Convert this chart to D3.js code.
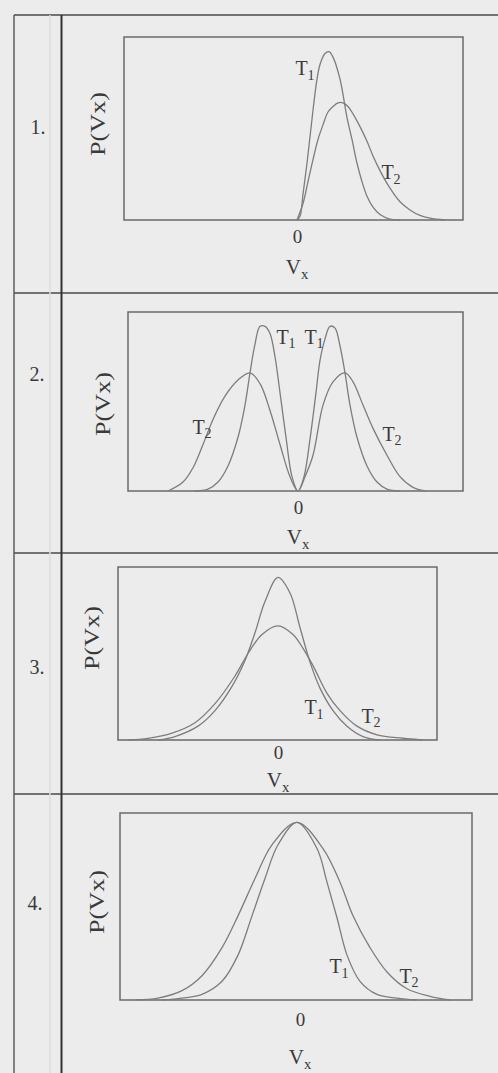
<!DOCTYPE html>
<html>
<head>
<meta charset="utf-8">
<script src="https://cdn.jsdelivr.net/npm/d3@7"></script>
<style>
  body { margin: 0; background: #ececec; }
  svg { display: block; }
  svg text { font-family: "Liberation Serif", "DejaVu Serif", serif; fill: #3a3a3a; }
</style>
</head>
<body>
<script>
// row numbers and labels
var rowNames = ["1.", "2.", "3.", "4."];
var xTicks = [0];

// curves: [Vx, P(Vx)], P normalised to box height
var p1T1 = [[0,0],[0.3,0.02],[0.6,0.14],[1.0,0.31],[1.6,0.6],[2.0,0.77],[2.3,0.85],[2.8,0.91],[3.2,0.92],
  [3.6,0.89],[4.3,0.77],[5.0,0.56],[5.5,0.44],[6.0,0.31],[6.5,0.21],[7.0,0.13],[7.6,0.07],[8.3,0.03],[9.3,0.005],[10.3,0]];
var p1T2 = [[0,0],[0.6,0.09],[1.1,0.21],[1.6,0.33],[2.1,0.44],[2.6,0.52],[3.1,0.59],[3.6,0.62],[4.1,0.64],[4.6,0.64],
  [5.1,0.62],[5.6,0.58],[6.3,0.51],[7.0,0.43],[7.6,0.35],[8.3,0.27],[9.0,0.2],[9.6,0.15],[10.3,0.1],[11.3,0.055],
  [12.3,0.025],[13.3,0.01],[14.8,0]];

var p2T1 = [[-10.3,0],[-9.0,0.01],[-8.0,0.05],[-7.0,0.14],[-6.0,0.3],[-5.3,0.48],[-4.8,0.66],[-4.3,0.82],[-3.8,0.92],
  [-3.3,0.92],[-2.8,0.88],[-2.3,0.75],[-1.8,0.55],[-1.2,0.3],[-0.6,0.08],[0,0],[0.6,0.08],[1.2,0.29],[1.8,0.55],
  [2.2,0.73],[2.7,0.85],[3.2,0.92],[3.7,0.91],[4.2,0.81],[4.7,0.66],[5.2,0.48],[5.9,0.3],[6.9,0.14],[7.9,0.05],[8.9,0.01],[10.2,0]];
var p2T2 = [[-13.0,0],[-11.5,0.05],[-10.5,0.13],[-9.5,0.26],[-8.5,0.4],[-7.3,0.53],[-6.0,0.62],[-4.8,0.66],[-3.8,0.6],[-2.8,0.45],
  [-1.8,0.26],[-0.8,0.08],[0,0],[0.7,0.08],[1.5,0.2],[2.5,0.48],[3.5,0.61],[4.7,0.66],[5.5,0.61],[6.5,0.48],[7.5,0.35],
  [8.9,0.2],[10.2,0.08],[11.5,0.02],[12.7,0]];

var p3T1 = [[-12.0,0],[-10.3,0.02],[-8.0,0.08],[-6.3,0.17],[-4.6,0.31],[-3.3,0.46],[-2.3,0.62],[-1.3,0.8],[0,0.94],
  [1.2,0.85],[2.2,0.65],[3.2,0.45],[4.2,0.3],[5.5,0.17],[6.9,0.08],[8.5,0.02],[10.2,0]];
var p3T2 = [[-15.0,0],[-13.0,0.01],[-10.6,0.04],[-8.3,0.1],[-6.3,0.21],[-4.3,0.37],[-3.0,0.5],[-1.6,0.61],[0,0.66],
  [1.5,0.61],[2.5,0.53],[3.5,0.43],[4.9,0.27],[6.2,0.17],[7.9,0.08],[9.9,0.03],[12.5,0.01],[14.5,0]];

var p4T1 = [[-13.8,0],[-11.8,0.01],[-9.8,0.03],[-7.8,0.1],[-6.2,0.24],[-4.8,0.45],[-3.5,0.65],[-2.2,0.83],[-0.3,0.95],
  [1.7,0.81],[2.7,0.63],[3.7,0.44],[4.7,0.24],[6.0,0.1],[7.7,0.03],[9.7,0.01],[11.7,0]];
var p4T2 = [[-16.5,0],[-14.2,0.01],[-11.8,0.05],[-9.8,0.13],[-7.8,0.28],[-6.2,0.45],[-4.5,0.65],[-2.8,0.83],[-0.3,0.95],
  [2.3,0.81],[4.0,0.63],[5.3,0.45],[7.0,0.28],[8.7,0.15],[10.7,0.06],[13.0,0.02],[15.0,0]];

// curve labels: [name, subscript, Vx, P]
var p1Labels = [["T", "1", 0.8, 0.83], ["T", "2", 9.4, 0.26]];
var p2Labels = [["T", "1", -1.2, 0.86], ["T", "1", 1.6, 0.86], ["T", "2", -9.6, 0.36], ["T", "2", 9.4, 0.32]];
var p3Labels = [["T", "1", 3.6, 0.19], ["T", "2", 9.3, 0.14]];
var p4Labels = [["T", "1", 3.9, 0.18], ["T", "2", 10.9, 0.13]];

// layout of each row (pixels)
var panels = [
  { curves: [p1T1, p1T2], labels: p1Labels, xDom: [-17.3, 16.6], box: [124, 37, 463, 220], num: [38, 127], ylab: [98, 124], zeroY: 237, vxY: 268 },
  { curves: [p2T1, p2T2], labels: p2Labels, xDom: [-17.0, 16.5], box: [128, 312, 463, 491], num: [37, 374], ylab: [103, 404], zeroY: 508, vxY: 538 },
  { curves: [p3T1, p3T2], labels: p3Labels, xDom: [-16.0, 15.9], box: [118, 567, 437, 740], num: [37, 667], ylab: [92, 638], zeroY: 753, vxY: 781 },
  { curves: [p4T1, p4T2], labels: p4Labels, xDom: [-18.0, 17.2], box: [120, 813, 472, 1000], num: [35, 903], ylab: [97, 902], zeroY: 1020, vxY: 1058 }
];
var rowLines = [15, 293, 553, 794];

var W = 498, H = 1073;
var svg = d3.select("body").append("svg").attr("width", W).attr("height", H)
  .attr("font-family", "Liberation Serif, serif");

// table frame
svg.selectAll(".hline").data(rowLines).enter().append("line")
  .attr("x1", 14).attr("x2", W).attr("y1", function(d) { return d; }).attr("y2", function(d) { return d; })
  .attr("stroke", "#4a4a4a").attr("stroke-width", 1.6);
svg.append("line").attr("x1", 14).attr("x2", 14).attr("y1", 15).attr("y2", H)
  .attr("stroke", "#555").attr("stroke-width", 1.4);
svg.append("line").attr("x1", 50).attr("x2", 50).attr("y1", 15).attr("y2", H)
  .attr("stroke", "#dcdcdc").attr("stroke-width", 1.5);
svg.append("line").attr("x1", 61.5).attr("x2", 61.5).attr("y1", 15).attr("y2", H)
  .attr("stroke", "#333").attr("stroke-width", 2);

function subText(sel, main, sub, size) {
  sel.append("tspan").text(main);
  sel.append("tspan").text(sub).attr("font-size", size * 0.7).attr("dy", size * 0.22);
}

panels.forEach(function(p, i) {
  var b = p.box;
  var x = d3.scaleLinear().domain(p.xDom).range([b[0], b[2]]);
  var y = d3.scaleLinear().domain([0, 1]).range([b[3], b[1]]);
  var g = svg.append("g");

  g.append("rect").attr("x", b[0]).attr("y", b[1]).attr("width", b[2] - b[0]).attr("height", b[3] - b[1])
    .attr("fill", "none").attr("stroke", "#6a6a6a").attr("stroke-width", 1.5);

  var line = d3.line()
    .x(function(d) { return x(d[0]); })
    .y(function(d) { return y(d[1]); })
    .curve(d3.curveCatmullRom.alpha(0.5));

  g.selectAll(".curve").data(p.curves).enter().append("path")
    .attr("d", line).attr("fill", "none").attr("stroke", "#7d7d7d").attr("stroke-width", 1.3);

  // x axis: only the 0 label
  var ax = g.append("g").attr("transform", "translate(0," + b[3] + ")")
    .call(d3.axisBottom(x).tickValues(xTicks).tickSize(0).tickPadding(p.zeroY - b[3] - 7));
  ax.attr("font-family", null);
  ax.select(".domain").remove();
  ax.selectAll("text").attr("font-size", 19).attr("fill", "#3a3a3a");

  g.append("text").attr("x", x(0)).attr("y", p.vxY + 6).attr("text-anchor", "middle").attr("font-size", 21)
    .call(function(t) { subText(t, "V", "x", 21); });

  g.append("text").attr("transform", "translate(" + (p.ylab[0] + 7) + "," + p.ylab[1] + ") rotate(-90)")
    .attr("text-anchor", "middle").attr("font-size", 21)
    .attr("textLength", 64).attr("lengthAdjust", "spacingAndGlyphs").text("P(Vx)");

  g.append("text").attr("x", p.num[0]).attr("y", p.num[1] + 7).attr("text-anchor", "middle")
    .attr("font-size", 20).text(rowNames[i]);

  g.selectAll(".lab").data(p.labels).enter().append("text")
    .attr("x", function(d) { return x(d[2]); })
    .attr("y", function(d) { return y(d[3]) + 7; })
    .attr("text-anchor", "middle").attr("font-size", 20)
    .each(function(d) { subText(d3.select(this), d[0], d[1], 20); });
});
</script>
</body>
</html>
